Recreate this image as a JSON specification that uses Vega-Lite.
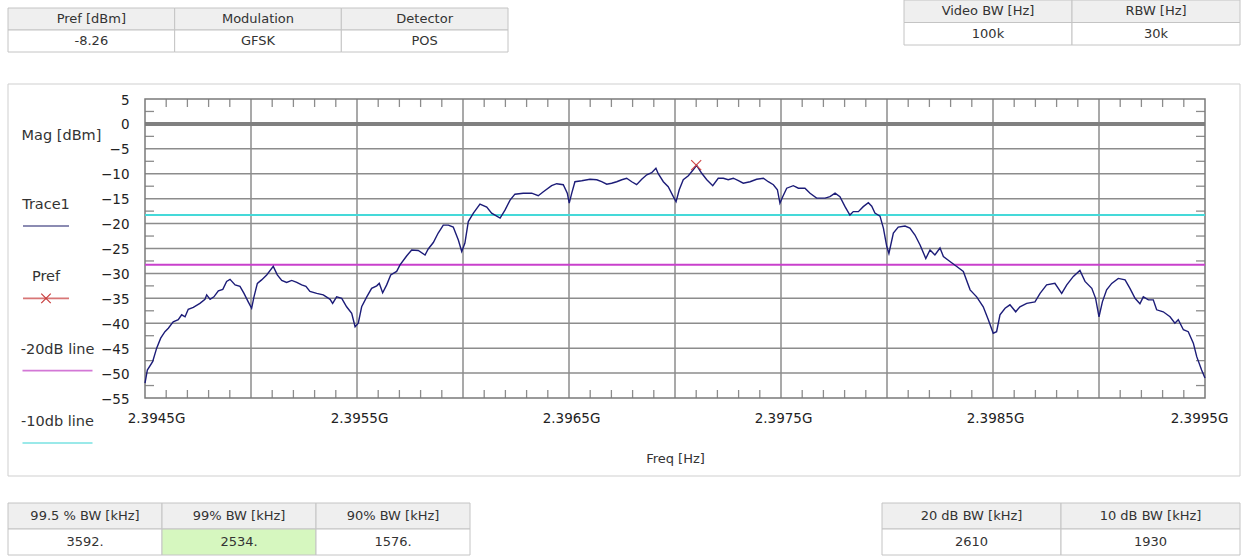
{
  "$schema": "https://vega.github.io/schema/vega-lite/v6.json",
  "width": 1244,
  "height": 558,
  "autosize": {"type": "none"},
  "padding": 0,
  "background": "white",
  "config": {"view": {"stroke": null}, "font": "DejaVu Sans"},
  "datasets": {
    "trace": [
      {"f":2394.500,"m":-52.0},{"f":2394.511,"m":-49.4},{"f":2394.536,"m":-47.7},{"f":2394.555,"m":-45.0},{"f":2394.574,"m":-43.0},{"f":2394.594,"m":-41.7},{"f":2394.610,"m":-41.0},{"f":2394.633,"m":-39.7},{"f":2394.657,"m":-39.3},{"f":2394.673,"m":-38.3},{"f":2394.689,"m":-38.7},{"f":2394.704,"m":-37.2},{"f":2394.728,"m":-36.8},{"f":2394.759,"m":-36.0},{"f":2394.783,"m":-35.2},{"f":2394.791,"m":-34.3},{"f":2394.807,"m":-35.2},{"f":2394.825,"m":-34.7},{"f":2394.846,"m":-33.5},{"f":2394.867,"m":-33.2},{"f":2394.885,"m":-31.6},{"f":2394.901,"m":-31.2},{"f":2394.925,"m":-32.3},{"f":2394.948,"m":-32.6},{"f":2394.967,"m":-34.0},{"f":2394.987,"m":-35.7},{"f":2395.003,"m":-37.0},{"f":2395.014,"m":-34.7},{"f":2395.030,"m":-32.0},{"f":2395.050,"m":-31.3},{"f":2395.074,"m":-30.3},{"f":2395.105,"m":-28.6},{"f":2395.124,"m":-30.3},{"f":2395.145,"m":-31.4},{"f":2395.168,"m":-31.8},{"f":2395.192,"m":-31.4},{"f":2395.216,"m":-31.8},{"f":2395.239,"m":-32.3},{"f":2395.259,"m":-32.6},{"f":2395.278,"m":-33.6},{"f":2395.310,"m":-34.0},{"f":2395.341,"m":-34.3},{"f":2395.373,"m":-35.2},{"f":2395.385,"m":-36.0},{"f":2395.404,"m":-34.7},{"f":2395.428,"m":-35.0},{"f":2395.451,"m":-36.7},{"f":2395.475,"m":-38.0},{"f":2395.491,"m":-40.7},{"f":2395.506,"m":-40.0},{"f":2395.522,"m":-36.7},{"f":2395.546,"m":-34.7},{"f":2395.569,"m":-33.0},{"f":2395.593,"m":-32.5},{"f":2395.605,"m":-32.0},{"f":2395.621,"m":-33.9},{"f":2395.640,"m":-32.3},{"f":2395.659,"m":-30.3},{"f":2395.687,"m":-29.6},{"f":2395.703,"m":-28.3},{"f":2395.734,"m":-26.5},{"f":2395.758,"m":-25.3},{"f":2395.789,"m":-25.4},{"f":2395.821,"m":-26.3},{"f":2395.836,"m":-25.1},{"f":2395.860,"m":-23.8},{"f":2395.883,"m":-21.9},{"f":2395.907,"m":-20.3},{"f":2395.931,"m":-20.3},{"f":2395.954,"m":-20.7},{"f":2395.978,"m":-23.3},{"f":2395.994,"m":-25.6},{"f":2396.009,"m":-23.9},{"f":2396.025,"m":-19.6},{"f":2396.049,"m":-17.9},{"f":2396.080,"m":-16.1},{"f":2396.112,"m":-16.7},{"f":2396.135,"m":-17.9},{"f":2396.151,"m":-18.3},{"f":2396.175,"m":-18.9},{"f":2396.198,"m":-17.3},{"f":2396.222,"m":-15.3},{"f":2396.245,"m":-14.1},{"f":2396.284,"m":-13.9},{"f":2396.324,"m":-13.9},{"f":2396.355,"m":-14.4},{"f":2396.379,"m":-13.6},{"f":2396.418,"m":-12.4},{"f":2396.442,"m":-12.0},{"f":2396.473,"m":-12.2},{"f":2396.492,"m":-13.9},{"f":2396.501,"m":-15.9},{"f":2396.513,"m":-13.9},{"f":2396.528,"m":-11.6},{"f":2396.560,"m":-11.4},{"f":2396.599,"m":-11.1},{"f":2396.631,"m":-11.2},{"f":2396.654,"m":-11.6},{"f":2396.678,"m":-12.1},{"f":2396.701,"m":-11.9},{"f":2396.725,"m":-11.6},{"f":2396.749,"m":-11.2},{"f":2396.772,"m":-10.9},{"f":2396.796,"m":-11.6},{"f":2396.819,"m":-12.2},{"f":2396.843,"m":-11.1},{"f":2396.867,"m":-10.2},{"f":2396.890,"m":-9.8},{"f":2396.910,"m":-8.9},{"f":2396.921,"m":-10.0},{"f":2396.945,"m":-11.6},{"f":2396.968,"m":-12.6},{"f":2396.992,"m":-14.6},{"f":2397.005,"m":-15.6},{"f":2397.020,"m":-13.2},{"f":2397.039,"m":-11.2},{"f":2397.063,"m":-10.4},{"f":2397.086,"m":-9.2},{"f":2397.102,"m":-8.3},{"f":2397.126,"m":-9.9},{"f":2397.150,"m":-11.2},{"f":2397.178,"m":-12.4},{"f":2397.204,"m":-10.9},{"f":2397.228,"m":-10.9},{"f":2397.251,"m":-11.2},{"f":2397.275,"m":-10.9},{"f":2397.299,"m":-11.4},{"f":2397.322,"m":-11.9},{"f":2397.354,"m":-11.6},{"f":2397.385,"m":-11.1},{"f":2397.417,"m":-10.9},{"f":2397.440,"m":-11.6},{"f":2397.464,"m":-12.2},{"f":2397.483,"m":-13.2},{"f":2397.495,"m":-15.9},{"f":2397.508,"m":-14.6},{"f":2397.527,"m":-12.9},{"f":2397.558,"m":-12.4},{"f":2397.582,"m":-12.9},{"f":2397.613,"m":-12.9},{"f":2397.637,"m":-13.9},{"f":2397.668,"m":-14.9},{"f":2397.708,"m":-14.9},{"f":2397.731,"m":-14.6},{"f":2397.755,"m":-13.9},{"f":2397.778,"m":-14.6},{"f":2397.802,"m":-16.6},{"f":2397.825,"m":-18.3},{"f":2397.841,"m":-17.6},{"f":2397.865,"m":-17.6},{"f":2397.888,"m":-16.6},{"f":2397.912,"m":-15.8},{"f":2397.928,"m":-16.5},{"f":2397.943,"m":-17.9},{"f":2397.967,"m":-18.5},{"f":2397.983,"m":-20.9},{"f":2397.999,"m":-24.6},{"f":2398.009,"m":-26.0},{"f":2398.030,"m":-21.9},{"f":2398.053,"m":-20.7},{"f":2398.085,"m":-20.5},{"f":2398.108,"m":-20.9},{"f":2398.132,"m":-22.3},{"f":2398.156,"m":-24.3},{"f":2398.183,"m":-27.0},{"f":2398.203,"m":-25.3},{"f":2398.226,"m":-26.3},{"f":2398.250,"m":-24.9},{"f":2398.266,"m":-26.6},{"f":2398.297,"m":-27.6},{"f":2398.329,"m":-28.6},{"f":2398.360,"m":-29.6},{"f":2398.392,"m":-33.3},{"f":2398.423,"m":-34.7},{"f":2398.454,"m":-36.7},{"f":2398.478,"m":-39.3},{"f":2398.501,"m":-42.0},{"f":2398.517,"m":-41.7},{"f":2398.533,"m":-38.3},{"f":2398.557,"m":-37.0},{"f":2398.580,"m":-36.3},{"f":2398.607,"m":-37.7},{"f":2398.627,"m":-36.7},{"f":2398.659,"m":-36.0},{"f":2398.698,"m":-35.7},{"f":2398.722,"m":-34.0},{"f":2398.753,"m":-32.3},{"f":2398.792,"m":-32.0},{"f":2398.824,"m":-34.0},{"f":2398.848,"m":-32.3},{"f":2398.879,"m":-30.6},{"f":2398.910,"m":-29.4},{"f":2398.934,"m":-31.6},{"f":2398.966,"m":-33.0},{"f":2398.984,"m":-35.0},{"f":2399.000,"m":-38.7},{"f":2399.016,"m":-35.7},{"f":2399.036,"m":-33.3},{"f":2399.060,"m":-32.0},{"f":2399.091,"m":-31.0},{"f":2399.123,"m":-31.3},{"f":2399.146,"m":-33.0},{"f":2399.170,"m":-35.0},{"f":2399.193,"m":-36.1},{"f":2399.209,"m":-34.7},{"f":2399.233,"m":-35.3},{"f":2399.256,"m":-35.3},{"f":2399.272,"m":-37.3},{"f":2399.303,"m":-37.7},{"f":2399.335,"m":-38.7},{"f":2399.358,"m":-40.0},{"f":2399.374,"m":-39.3},{"f":2399.398,"m":-41.3},{"f":2399.421,"m":-41.7},{"f":2399.445,"m":-44.0},{"f":2399.461,"m":-46.7},{"f":2399.484,"m":-49.4},{"f":2399.500,"m":-51.0}
    ],
    "hgrid": [{"m":-5},{"m":-10},{"m":-15},{"m":-20},{"m":-25},{"m":-30},{"m":-35},{"m":-40},{"m":-45},{"m":-50}],
    "vgrid": [{"f":2395.0},{"f":2395.5},{"f":2396.0},{"f":2396.5},{"f":2397.0},{"f":2397.5},{"f":2398.0},{"f":2398.5},{"f":2399.0}],
    "xminor": [{"f":2394.6},{"f":2394.7},{"f":2394.8},{"f":2394.9},{"f":2395.1},{"f":2395.2},{"f":2395.3},{"f":2395.4},{"f":2395.6},{"f":2395.7},{"f":2395.8},{"f":2395.9},{"f":2396.1},{"f":2396.2},{"f":2396.3},{"f":2396.4},{"f":2396.6},{"f":2396.7},{"f":2396.8},{"f":2396.9},{"f":2397.1},{"f":2397.2},{"f":2397.3},{"f":2397.4},{"f":2397.6},{"f":2397.7},{"f":2397.8},{"f":2397.9},{"f":2398.1},{"f":2398.2},{"f":2398.3},{"f":2398.4},{"f":2398.6},{"f":2398.7},{"f":2398.8},{"f":2398.9},{"f":2399.1},{"f":2399.2},{"f":2399.3},{"f":2399.4}],
    "yminor": [{"m":2.5},{"m":-2.5},{"m":-7.5},{"m":-12.5},{"m":-17.5},{"m":-22.5},{"m":-27.5},{"m":-32.5},{"m":-37.5},{"m":-42.5},{"m":-47.5},{"m":-52.5}],
    "reflines": [{"name":"-10db line","m":-18.26},{"name":"-20dB line","m":-28.26}],
    "pref": [{"f":2397.10,"m":-8.26}],
    "legend": [{"name":"Trace1","g":"s"},{"name":"Pref","g":"s"},{"name":"-20dB line","g":"l"},{"name":"-10db line","g":"l"}],
    "tl": [
      {"c":"Pref [dBm]","r":"h","t":"Pref [dBm]"},{"c":"Pref [dBm]","r":"v","t":"-8.26"},
      {"c":"Modulation","r":"h","t":"Modulation"},{"c":"Modulation","r":"v","t":"GFSK"},
      {"c":"Detector","r":"h","t":"Detector"},{"c":"Detector","r":"v","t":"POS"}
    ],
    "tr": [
      {"c":"Video BW [Hz]","r":"h","t":"Video BW [Hz]"},{"c":"Video BW [Hz]","r":"v","t":"100k"},
      {"c":"RBW [Hz]","r":"h","t":"RBW [Hz]"},{"c":"RBW [Hz]","r":"v","t":"30k"}
    ],
    "bl": [
      {"c":"99.5 % BW [kHz]","r":"h","t":"99.5 % BW [kHz]"},{"c":"99.5 % BW [kHz]","r":"v","t":"3592."},
      {"c":"99% BW [kHz]","r":"h","t":"99% BW [kHz]"},{"c":"99% BW [kHz]","r":"v","t":"2534."},
      {"c":"90% BW [kHz]","r":"h","t":"90% BW [kHz]"},{"c":"90% BW [kHz]","r":"v","t":"1576."}
    ],
    "br": [
      {"c":"20 dB BW [kHz]","r":"h","t":"20 dB BW [kHz]"},{"c":"20 dB BW [kHz]","r":"v","t":"2610"},
      {"c":"10 dB BW [kHz]","r":"h","t":"10 dB BW [kHz]"},{"c":"10 dB BW [kHz]","r":"v","t":"1930"}
    ],
    "one": [{"k":"frame"}]
  },
  "resolve": {"scale": {"x": "independent", "y": "independent"}},
  "layer": [
    {
      "data": {"name": "one"},
      "mark": {"type": "rect", "fill": null, "fillOpacity": 0, "stroke": "#cfcfcf", "strokeWidth": 1},
      "encoding": {
        "x": {"field": "k", "type": "nominal", "scale": {"range": [8, 1240], "paddingInner": 0, "paddingOuter": 0}, "axis": null},
        "y": {"field": "k", "type": "nominal", "scale": {"range": [84, 476], "paddingInner": 0, "paddingOuter": 0}, "axis": null}
      }
    },
    {
      "data": {"name": "tl"},
      "encoding": {
        "x": {"field": "c", "type": "nominal", "sort": null, "scale": {"range": [8, 508], "paddingInner": 0, "paddingOuter": 0}, "axis": null},
        "y": {"field": "r", "type": "nominal", "scale": {"domain": ["h", "v"], "range": [8, 52], "paddingInner": 0, "paddingOuter": 0}, "axis": null}
      },
      "layer": [
        {"mark": {"type": "rect", "stroke": "#c4c4c4", "strokeWidth": 1}, "encoding": {"fill": {"condition": {"test": "datum.r === 'h'", "value": "#efefef"}, "value": "#ffffff"}}},
        {"mark": {"type": "text", "fontSize": 13, "color": "#333333", "baseline": "middle"}, "encoding": {"text": {"field": "t"}}}
      ]
    },
    {
      "data": {"name": "tr"},
      "encoding": {
        "x": {"field": "c", "type": "nominal", "sort": null, "scale": {"range": [904, 1240], "paddingInner": 0, "paddingOuter": 0}, "axis": null},
        "y": {"field": "r", "type": "nominal", "scale": {"domain": ["h", "v"], "range": [0, 45], "paddingInner": 0, "paddingOuter": 0}, "axis": null}
      },
      "layer": [
        {"mark": {"type": "rect", "stroke": "#c4c4c4", "strokeWidth": 1}, "encoding": {"fill": {"condition": {"test": "datum.r === 'h'", "value": "#efefef"}, "value": "#ffffff"}}},
        {"mark": {"type": "text", "fontSize": 13, "color": "#333333", "baseline": "middle"}, "encoding": {"text": {"field": "t"}}}
      ]
    },
    {
      "data": {"name": "bl"},
      "encoding": {
        "x": {"field": "c", "type": "nominal", "sort": null, "scale": {"range": [8, 470], "paddingInner": 0, "paddingOuter": 0}, "axis": null},
        "y": {"field": "r", "type": "nominal", "scale": {"domain": ["h", "v"], "range": [503, 555], "paddingInner": 0, "paddingOuter": 0}, "axis": null}
      },
      "layer": [
        {"mark": {"type": "rect", "stroke": "#c4c4c4", "strokeWidth": 1}, "encoding": {"fill": {"condition": [{"test": "datum.r === 'h'", "value": "#efefef"}, {"test": "datum.c === '99% BW [kHz]'", "value": "#d6f7bf"}], "value": "#ffffff"}}},
        {"mark": {"type": "text", "fontSize": 13, "color": "#333333", "baseline": "middle"}, "encoding": {"text": {"field": "t"}}}
      ]
    },
    {
      "data": {"name": "br"},
      "encoding": {
        "x": {"field": "c", "type": "nominal", "sort": null, "scale": {"range": [882, 1240], "paddingInner": 0, "paddingOuter": 0}, "axis": null},
        "y": {"field": "r", "type": "nominal", "scale": {"domain": ["h", "v"], "range": [503, 555], "paddingInner": 0, "paddingOuter": 0}, "axis": null}
      },
      "layer": [
        {"mark": {"type": "rect", "stroke": "#c4c4c4", "strokeWidth": 1}, "encoding": {"fill": {"condition": {"test": "datum.r === 'h'", "value": "#efefef"}, "value": "#ffffff"}}},
        {"mark": {"type": "text", "fontSize": 13, "color": "#333333", "baseline": "middle"}, "encoding": {"text": {"field": "t"}}}
      ]
    },
    {
      "data": {"name": "legend"},
      "mark": {"type": "text", "fontSize": 14.5, "color": "#333333", "align": "center", "baseline": "middle"},
      "encoding": {
        "x": {"field": "g", "type": "nominal", "scale": {"type": "point", "domain": ["s", "l"], "range": [46, 57.5], "padding": 0}, "axis": null},
        "y": {"field": "name", "type": "nominal", "sort": null, "scale": {"type": "point", "domain": ["Trace1", "Pref", "-20dB line", "-10db line"], "range": [205, 422], "padding": 0}, "axis": null},
        "text": {"field": "name"}
      }
    },
    {
      "data": {"name": "legend"},
      "encoding": {
        "x": {"field": "g", "type": "nominal", "scale": {"type": "point", "domain": ["s", "l"], "range": [46, 57.5], "padding": 0}, "axis": null},
        "y": {"field": "name", "type": "nominal", "sort": null, "scale": {"type": "point", "domain": ["Trace1", "Pref", "-20dB line", "-10db line"], "range": [226, 443], "padding": 0}, "axis": null}
      },
      "layer": [
        {
          "mark": {"type": "tick", "orient": "horizontal", "thickness": 1.6},
          "encoding": {
            "size": {"condition": {"test": "datum.g === 's'", "value": 46}, "value": 70},
            "color": {"condition": [{"test": "datum.name === 'Trace1'", "value": "#23236e"}, {"test": "datum.name === 'Pref'", "value": "#c83c3c"}, {"test": "datum.name === '-20dB line'", "value": "#c13fc4"}], "value": "#3fd6d6"}
          }
        },
        {
          "transform": [{"filter": "datum.name === 'Pref'"}],
          "mark": {"type": "point", "shape": "M-1,-1L1,1M-1,1L1,-1", "filled": false, "size": 90, "strokeWidth": 1.2, "color": "#c83c3c", "opacity": 1}
        }
      ]
    },
    {
      "layer": [
        {
          "data": {"name": "hgrid"},
          "mark": {"type": "rule", "color": "#8c8c8c", "strokeWidth": 1.5},
          "encoding": {
            "y": {"field": "m", "type": "quantitative",
              "scale": {"domain": [-55, 5], "range": [398, 99], "nice": false, "zero": false},
              "axis": {"orient": "left", "offset": -145, "zindex": 2, "values": [5, 0, -5, -10, -15, -20, -25, -30, -35, -40, -45, -50, -55], "grid": false, "domain": false, "ticks": false, "tickSize": 0, "labelPadding": 16, "labelFontSize": 13.5, "labelColor": "#222222", "labelFont": "DejaVu Sans", "labelOverlap": false, "labelBound": false, "labelFlush": false, "labelOffset": 1,
                "title": "Mag [dBm]", "titleAngle": 0, "titleX": -84, "titleY": 135, "titleAlign": "center", "titleBaseline": "middle", "titleFontWeight": "normal", "titleFontSize": 14.5, "titleColor": "#333333", "titleFont": "DejaVu Sans"}},
            "x": {"datum": 2394.5, "type": "quantitative",
              "scale": {"domain": [2394.5, 2399.5], "range": [145, 1205], "nice": false, "zero": false},
              "axis": {"orient": "bottom", "offset": -160, "zindex": 2, "values": [2394.5, 2395.5, 2396.5, 2397.5, 2398.5, 2399.5], "labelExpr": "format(datum.value / 1000, '.4f') + 'G'", "grid": false, "domain": false, "ticks": false, "tickSize": 0, "labelPadding": 13, "labelFontSize": 13.5, "labelColor": "#222222", "labelFont": "DejaVu Sans", "labelOverlap": false, "labelBound": false, "labelFlush": false,
                "labelOffset": {"condition": [{"test": "datum.value < 2394.6", "value": 11}, {"test": "datum.value > 2399.4", "value": -6}], "value": 2},
                "title": "Freq [Hz]", "titleX": 675, "titleY": 60, "titleBaseline": "middle", "titleAlign": "center", "titleFontWeight": "normal", "titleFontSize": 13, "titleColor": "#333333", "titleFont": "DejaVu Sans"}},
            "x2": {"datum": 2399.5}
          }
        },
        {
          "data": {"name": "vgrid"},
          "mark": {"type": "rule", "color": "#8c8c8c", "strokeWidth": 1.5},
          "encoding": {"x": {"field": "f", "type": "quantitative"}, "y": {"datum": -55}, "y2": {"datum": 5}}
        },
        {
          "data": {"name": "xminor"},
          "mark": {"type": "rule", "color": "#8c8c8c", "strokeWidth": 1.3},
          "encoding": {"x": {"field": "f", "type": "quantitative"}, "y": {"datum": 5}, "y2": {"datum": 3.4}}
        },
        {
          "data": {"name": "xminor"},
          "mark": {"type": "rule", "color": "#8c8c8c", "strokeWidth": 1.3},
          "encoding": {"x": {"field": "f", "type": "quantitative"}, "y": {"datum": -55}, "y2": {"datum": -53.4}}
        },
        {
          "data": {"name": "yminor"},
          "mark": {"type": "rule", "color": "#8c8c8c", "strokeWidth": 1.3},
          "encoding": {"y": {"field": "m", "type": "quantitative"}, "x": {"datum": 2394.5}, "x2": {"datum": 2394.5425}}
        },
        {
          "data": {"name": "yminor"},
          "mark": {"type": "rule", "color": "#8c8c8c", "strokeWidth": 1.3},
          "encoding": {"y": {"field": "m", "type": "quantitative"}, "x": {"datum": 2399.5}, "x2": {"datum": 2399.4575}}
        },
        {
          "data": {"name": "one"},
          "mark": {"type": "rule", "color": "#808080", "strokeWidth": 4},
          "encoding": {"y": {"datum": 0}, "x": {"datum": 2394.5}, "x2": {"datum": 2399.5}}
        },
        {
          "data": {"name": "one"},
          "mark": {"type": "rect", "fill": null, "fillOpacity": 0, "stroke": "#7a7a7a", "strokeWidth": 1.5},
          "encoding": {"x": {"datum": 2394.5}, "x2": {"datum": 2399.5}, "y": {"datum": -55}, "y2": {"datum": 5}}
        },
        {
          "data": {"name": "reflines"},
          "mark": {"type": "rule", "strokeWidth": 2},
          "encoding": {
            "y": {"field": "m", "type": "quantitative"}, "x": {"datum": 2394.5}, "x2": {"datum": 2399.5},
            "color": {"condition": {"test": "datum.name === '-10db line'", "value": "#45d9d9"}, "value": "#c940cc"}
          }
        },
        {
          "data": {"name": "trace"},
          "mark": {"type": "line", "color": "#1c1c78", "strokeWidth": 1.4},
          "encoding": {"x": {"field": "f", "type": "quantitative"}, "y": {"field": "m", "type": "quantitative"}}
        },
        {
          "data": {"name": "pref"},
          "mark": {"type": "point", "shape": "M-1,-1L1,1M-1,1L1,-1", "filled": false, "size": 100, "strokeWidth": 1.2, "color": "#d04848", "opacity": 1},
          "encoding": {"x": {"field": "f", "type": "quantitative"}, "y": {"field": "m", "type": "quantitative"}}
        }
      ]
    }
  ]
}
